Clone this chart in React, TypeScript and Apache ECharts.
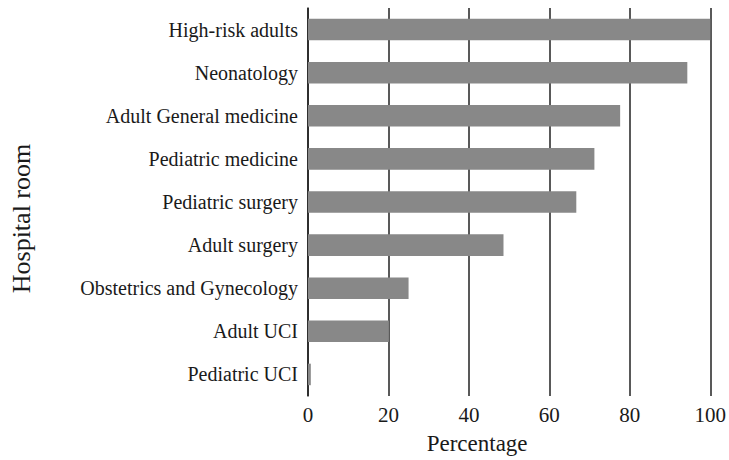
import React, { useEffect, useRef } from "react";
import * as echarts from "echarts";

const categories = [
  "High-risk adults",
  "Neonatology",
  "Adult General medicine",
  "Pediatric medicine",
  "Pediatric surgery",
  "Adult surgery",
  "Obstetrics and Gynecology",
  "Adult UCI",
  "Pediatric UCI",
];
const percentages = [100, 94.3, 77.6, 71.2, 66.7, 48.6, 25.0, 20.1, 0.7];
const xTicks = [0, 20, 40, 60, 80, 100];

const FONT = "Liberation Serif";

export default function App() {
  const ref = useRef<HTMLDivElement>(null);
  useEffect(() => {
    if (!ref.current) return;
    const chart = echarts.init(ref.current, null, { renderer: "svg" });
    chart.setOption({
      animation: false,
      backgroundColor: "#ffffff",
      grid: { left: 292, right: 17, top: 8, bottom: 58, containLabel: false },
      xAxis: {
        type: "value",
        min: xTicks[0],
        max: xTicks[xTicks.length - 1],
        interval: 20,
        name: "Percentage",
        nameLocation: "middle",
        nameGap: 36,
        nameTextStyle: {
          fontFamily: FONT,
          fontSize: 23,
          color: "#1a1a1a",
          padding: [0, 64, 0, 0],
        },
        axisLine: { show: false },
        axisTick: { show: false },
        axisLabel: {
          fontFamily: FONT,
          fontSize: 21,
          color: "#1a1a1a",
          margin: 8,
        },
        splitLine: { show: true, lineStyle: { color: "#222222", width: 1.5 } },
      },
      yAxis: {
        type: "category",
        data: categories,
        inverse: true,
        name: "Hospital room",
        nameLocation: "middle",
        nameRotate: 90,
        nameGap: 274,
        nameTextStyle: {
          fontFamily: FONT,
          fontSize: 26,
          color: "#1a1a1a",
          padding: [0, 33, 0, 0],
        },
        axisLine: { show: true, lineStyle: { color: "#222222", width: 1.5 } },
        axisTick: { show: false },
        axisLabel: {
          fontFamily: FONT,
          fontSize: 20,
          color: "#1a1a1a",
          margin: 10,
        },
        splitLine: { show: false },
      },
      series: [
        {
          type: "bar",
          data: percentages,
          barWidth: "50%",
          itemStyle: { color: "#888888" },
        },
      ],
    });
    return () => chart.dispose();
  }, []);
  return (
    <div
      ref={ref}
      style={{ position: "fixed", left: 0, top: 0, width: 729, height: 460 }}
    />
  );
}
